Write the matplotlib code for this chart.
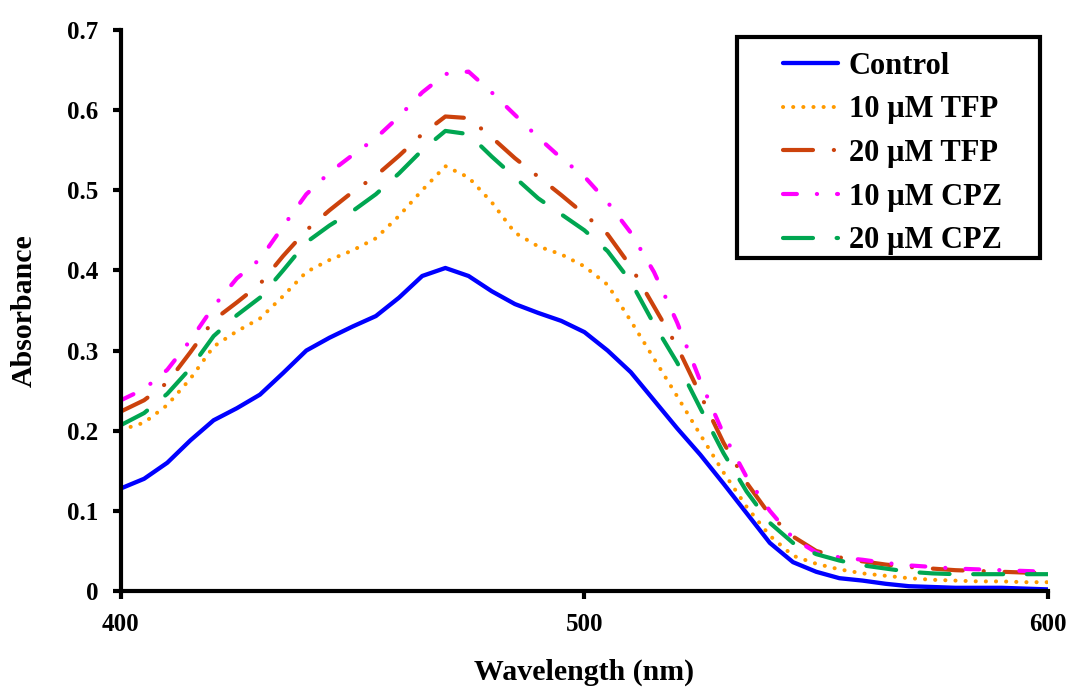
#!/usr/bin/env python3
"""Absorbance spectra: control vs TFP / CPZ treatments"""

import numpy as np
import matplotlib
matplotlib.use('Agg')
import matplotlib.pyplot as plt
from matplotlib import rcParams
from matplotlib.patches import Rectangle

rcParams['font.family'] = 'Liberation Serif'
rcParams['font.weight'] = 'bold'
rcParams['lines.scale_dashes'] = False

# Data (5 nm steps)
wavelength = np.arange(400, 601, 5)

control = [0.128, 0.140, 0.160, 0.188, 0.213, 0.228, 0.245, 0.272, 0.300, 0.316,
           0.330, 0.343, 0.366, 0.393, 0.403, 0.393, 0.374, 0.358, 0.347, 0.337,
           0.323, 0.300, 0.273, 0.238, 0.203, 0.170, 0.134, 0.097, 0.060, 0.036,
           0.024, 0.016, 0.013, 0.009, 0.006, 0.005, 0.004, 0.004, 0.004, 0.003,
           0.002]
tfp_10 = [0.201, 0.210, 0.232, 0.265, 0.305, 0.324, 0.340, 0.368, 0.398, 0.413,
          0.425, 0.440, 0.468, 0.500, 0.530, 0.516, 0.485, 0.447, 0.430, 0.420,
          0.405, 0.382, 0.337, 0.290, 0.243, 0.195, 0.148, 0.105, 0.069, 0.044,
          0.034, 0.027, 0.022, 0.019, 0.016, 0.014, 0.013, 0.012, 0.012, 0.011,
          0.011]
tfp_20 = [0.224, 0.238, 0.260, 0.298, 0.338, 0.360, 0.383, 0.418, 0.450, 0.475,
          0.498, 0.518, 0.543, 0.570, 0.592, 0.590, 0.566, 0.540, 0.517, 0.494,
          0.470, 0.445, 0.405, 0.355, 0.305, 0.245, 0.185, 0.135, 0.095, 0.068,
          0.050, 0.042, 0.037, 0.033, 0.030, 0.028, 0.026, 0.025, 0.024, 0.023,
          0.022]
cpz_10 = [0.238, 0.252, 0.276, 0.313, 0.355, 0.390, 0.414, 0.455, 0.495, 0.522,
          0.544, 0.565, 0.592, 0.622, 0.645, 0.648, 0.622, 0.594, 0.566, 0.540,
          0.517, 0.485, 0.447, 0.398, 0.335, 0.262, 0.196, 0.142, 0.100, 0.066,
          0.048, 0.042, 0.039, 0.035, 0.032, 0.030, 0.028, 0.027, 0.026, 0.025,
          0.024]
cpz_20 = [0.207, 0.222, 0.246, 0.278, 0.318, 0.344, 0.366, 0.400, 0.435, 0.456,
          0.474, 0.495, 0.521, 0.550, 0.574, 0.570, 0.542, 0.516, 0.490, 0.470,
          0.450, 0.424, 0.386, 0.333, 0.285, 0.228, 0.172, 0.124, 0.085, 0.060,
          0.046, 0.038, 0.032, 0.028, 0.024, 0.022, 0.021, 0.021, 0.021, 0.021,
          0.021]

series = [
    ('Control', control, '#0000FF', '-', 3.1),
    ('10 µM TFP', tfp_10, '#FF9A00', (0, (0.1, 7.2)), 2.9),
    ('20 µM TFP', tfp_20, '#CC420C', (0, (21.6, 15, 0.1, 15)), 3.0),
    ('10 µM CPZ', cpz_10, '#FF00FF', (0, (10, 14.4, 0.1, 14.4)), 3.0),
    ('20 µM CPZ', cpz_20, '#00A651', (0, (21.6, 17)), 3.0),
]

fig = plt.figure(figsize=(10.7, 6.91), dpi=100)
ax = fig.add_axes([0.113, 0.1447, 0.8664, 0.812])

for label, vals, color, ls, lw in series:
    ax.plot(wavelength, vals, color=color, linestyle=ls, linewidth=lw,
            label=label, dash_capstyle='round', solid_capstyle='round')

ax.set_xlim(400, 600)
ax.set_ylim(0, 0.7)
ax.set_xticks([400, 500, 600])
ax.set_yticks(np.arange(0, 0.71, 0.1))
ax.set_yticklabels(['0', '0.1', '0.2', '0.3', '0.4', '0.5', '0.6', '0.7'])

for side in ['top', 'right']:
    ax.spines[side].set_visible(False)
for side in ['left', 'bottom']:
    ax.spines[side].set_linewidth(3)
ax.tick_params(direction='out', length=6, width=3, labelsize=18, pad=10)

ax.set_xlabel('Wavelength (nm)', fontsize=21.5, fontweight='bold', labelpad=16)
ax.set_ylabel('Absorbance', fontsize=21.5, fontweight='bold', labelpad=21)

# legend frame drawn separately so the padding matches the reference
ax.add_patch(Rectangle((0.6645, 0.5936), 0.9914 - 0.6645, 0.9875 - 0.5936,
                       transform=ax.transAxes, fill=True, facecolor='white',
                       edgecolor='black', linewidth=3, zorder=5, clip_on=False))
leg = ax.legend(loc='upper left', bbox_to_anchor=(0.714, 0.961), borderaxespad=0,
                borderpad=0, fontsize=22, frameon=False, handlelength=1.8,
                handletextpad=0.35, labelspacing=0.48)
leg.set_zorder(6)

fig.savefig('out.png', dpi=100)
